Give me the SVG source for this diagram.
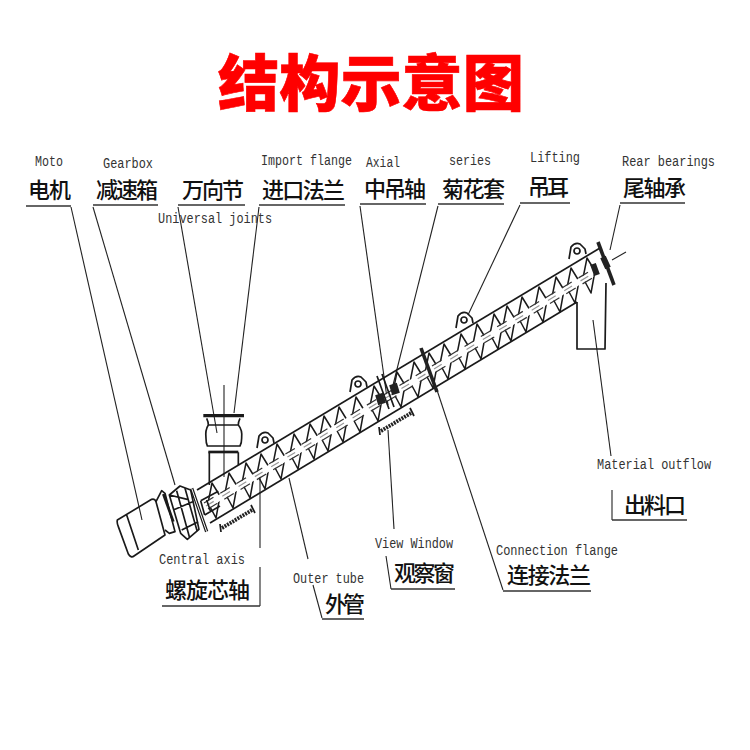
<svg xmlns="http://www.w3.org/2000/svg" xmlns:xlink="http://www.w3.org/1999/xlink" width="750" height="750" viewBox="0 0 750 750">
<style>
.en{font-family:"Liberation Mono",monospace;font-size:14px;fill:#333}
.zh{font-family:"Noto Sans CJK SC","Noto Sans",sans-serif;font-size:22px;fill:#111;font-weight:500}
.title{font-family:"Noto Sans CJK SC",sans-serif;font-size:61px;font-weight:900;fill:#f00;stroke:#f00;stroke-width:.6}
.l{fill:none;stroke:#222;stroke-width:1.1}
.u{fill:none;stroke:#333;stroke-width:1.6}
.d{fill:none;stroke:#1a1a1a;stroke-width:1.7;stroke-linejoin:round}
.b{fill:none;stroke:#1a1a1a;stroke-width:1.5;stroke-linejoin:round}
.z{fill:none;stroke:#1a1a1a;stroke-width:5;stroke-linejoin:round}
.w{fill:none;stroke:#fff;stroke-width:6}
.s{fill:none;stroke:#333;stroke-width:1.2;stroke-dasharray:11 8}
.c{fill:none;stroke:#999;stroke-width:1.2;stroke-dasharray:9 10}
.k{fill:none;stroke:#222;stroke-width:3.8;stroke-dasharray:2 1}
</style>
<defs>
<g id="blade"><path class="b" d="M-1-18 L7-5 L3 17 L-5 2 Z"/></g>
<g id="lug"><path class="d" d="M-8 7 L-6-5 Q-2-10 3-8 L8-3 L9 2"/><circle class="d" cx="0" cy="-1" r="3"/></g>
<g id="win"><path class="k" d="M0 0 L30-18"/><path class="d" d="M-2-4 L-1 4 M29-23 L33-15"/></g>
</defs>
<rect width="750" height="750" fill="#fff"/>
<text class="title" x="218" y="106" textLength="306" lengthAdjust="spacingAndGlyphs">结构示意图</text>

<g id="connectors">
<path class="l" d="M71 207 L142 520"/>
<path class="l" d="M93 207 L175 485"/>
<path class="l" d="M178 207 L217 433"/>
<path class="l" d="M259 207 L234 413"/>
<path class="l" d="M360 206 L388 405"/>
<path class="l" d="M438 206 L390 397"/>
<path class="l" d="M520 205 L468 315"/>
<path class="l" d="M620 205 L610 250"/>
<path class="l" d="M593 320 L611 456"/>
<path class="l" d="M437 390 L503 590"/>
<path class="l" d="M388 430 L394 529"/>
<path class="l" d="M289 478 L308 559"/>
<path class="l" d="M313 585 L322 618"/>
<path class="l" d="M386 556 L391 589"/>
<path class="l" d="M260 473 V548"/>
<path class="l" d="M260 567 V606"/>
<path class="l" d="M612 490 V520"/>
<path class="l" d="M224 385 V477"/>
</g>

<g id="machine">
<g id="tube">
<path class="d" d="M197 490 L600 248"/>
<path class="d" d="M210 523 L577 302"/>
<use xlink:href="#blade" x="213" y="501"/><use xlink:href="#blade" x="230" y="491"/><use xlink:href="#blade" x="247" y="481"/><use xlink:href="#blade" x="262" y="472"/><use xlink:href="#blade" x="278" y="462"/><use xlink:href="#blade" x="295" y="452"/><use xlink:href="#blade" x="311" y="442"/><use xlink:href="#blade" x="325" y="434"/><use xlink:href="#blade" x="340" y="425"/><use xlink:href="#blade" x="357" y="415"/><use xlink:href="#blade" x="375" y="404"/><use xlink:href="#blade" x="398" y="390"/><use xlink:href="#blade" x="415" y="380"/><use xlink:href="#blade" x="430" y="371"/><use xlink:href="#blade" x="445" y="362"/><use xlink:href="#blade" x="462" y="352"/><use xlink:href="#blade" x="478" y="342"/><use xlink:href="#blade" x="495" y="332"/><use xlink:href="#blade" x="508" y="324"/><use xlink:href="#blade" x="523" y="315"/><use xlink:href="#blade" x="540" y="305"/><use xlink:href="#blade" x="557" y="295"/><use xlink:href="#blade" x="572" y="286"/><use xlink:href="#blade" x="588" y="276"/>
<path class="w" d="M206 506 L592 274"/>
<path class="s" d="M204 503 L590 271"/>
<path class="s" d="M208 509 L594 277"/>
<path class="c" d="M206 506 L592 274"/>
<use xlink:href="#lug" x="265" y="441"/><use xlink:href="#lug" x="358" y="385"/><use xlink:href="#lug" x="464" y="321"/><use xlink:href="#lug" x="577" y="252"/>
</g>
<g id="windows"><use xlink:href="#win" x="222" y="528"/><use xlink:href="#win" x="381" y="431"/></g>
<g id="flanges">
<path d="M421 348 L437 392" fill="none" stroke="#222" stroke-width="3.6"/>
<path class="d" d="M377 376 L389 409 M382 374 L394 407" stroke-width="1.2"/>
<path d="M379 394 L382 404 M393 384 L396 394" fill="none" stroke="#222" stroke-width="8"/>
<path d="M598 242 L614 285" fill="none" stroke="#222" stroke-width="3.6"/>
<path d="M593 264 L597 275 M603 257 L608 268" fill="none" stroke="#222" stroke-width="6"/>
<path class="l" d="M612 260 L626 252" stroke="#777"/>
</g>
<g id="outlet"><path class="d" d="M577 302 V349 H605 L606 283"/></g>
<g id="inlet" transform="translate(100 370) scale(.3333)">
<path d="M310 137 H432" fill="none" stroke="#1a1a1a" stroke-width="10"/>
<path class="z" d="M320 145 Q325 155 325 165 Q315 180 318 205 Q318 220 322 228 M420 145 Q415 155 415 165 Q428 180 425 205 Q425 220 420 228 M324 165 H416 M320 228 H422 M328 247 V345 M415 247 V285"/>
<path d="M325 246 H415" fill="none" stroke="#1a1a1a" stroke-width="8"/>
</g>
<g id="drive" transform="translate(110 470) scale(.3333)">
<path fill="#fff" class="z" d="M22 150 L125 88 Q135 85 138 95 L165 195 L72 258 Q63 265 55 252 L25 170 Q20 158 22 150 Z M50 135 L85 240"/>
<path fill="#fff" class="z" d="M138 95 L155 62 L165 70 L195 185 L178 190 L165 180"/>
<path d="M160 72 L190 155" fill="none" stroke="#1a1a1a" stroke-width="8"/>
<path fill="#fff" class="z" d="M178 75 L210 48 L242 60 L267 178 L232 208 L212 190 Z M200 62 L238 200 M225 55 L262 185 M190 120 L248 95 M215 180 L265 155 M178 75 L232 88"/>
<path d="M245 55 L290 185" fill="none" stroke="#1a1a1a" stroke-width="10"/>
<path d="M245 55 L290 185" fill="none" stroke="#fff" stroke-width="3"/>
<path class="z" d="M272 92 L325 64 M284 135 L330 108 M272 92 L284 135 M290 90 L302 125"/>
</g>
</g>

<g id="n-moto"><text class="en" x="35" y="166" textLength="28" lengthAdjust="spacingAndGlyphs">Moto</text><text class="zh" x="28" y="198" textLength="43" lengthAdjust="spacing">电机</text><path class="u" d="M26 206 H71"/></g>
<g id="n-gearbox"><text class="en" x="103" y="168" textLength="50" lengthAdjust="spacingAndGlyphs">Gearbox</text><text class="zh" x="96" y="198" textLength="62" lengthAdjust="spacing">减速箱</text><path class="u" d="M93 205 H158"/></g>
<g id="n-joints"><text class="zh" x="182" y="198" textLength="62" lengthAdjust="spacing">万向节</text><path class="u" d="M178 205 H245"/><text class="en" x="158" y="223" textLength="114" lengthAdjust="spacingAndGlyphs">Universal joints</text></g>
<g id="n-import"><text class="en" x="261" y="165" textLength="91" lengthAdjust="spacingAndGlyphs">Import flange</text><text class="zh" x="262" y="198" textLength="83" lengthAdjust="spacing">进口法兰</text><path class="u" d="M259 205 H345"/></g>
<g id="n-axial"><text class="en" x="366" y="167" textLength="34" lengthAdjust="spacingAndGlyphs">Axial</text><text class="zh" x="364" y="197" textLength="62" lengthAdjust="spacing">中吊轴</text><path class="u" d="M360 204 H426"/></g>
<g id="n-series"><text class="en" x="449" y="165" textLength="42" lengthAdjust="spacingAndGlyphs">series</text><text class="zh" x="442" y="197" textLength="63" lengthAdjust="spacing">菊花套</text><path class="u" d="M438 204 H504"/></g>
<g id="n-lifting"><text class="en" x="530" y="162" textLength="50" lengthAdjust="spacingAndGlyphs">Lifting</text><text class="zh" x="528" y="195" textLength="41" lengthAdjust="spacing">吊耳</text><path class="u" d="M520 203 H570"/></g>
<g id="n-rear"><text class="en" x="622" y="166" textLength="93" lengthAdjust="spacingAndGlyphs">Rear bearings</text><text class="zh" x="623" y="196" textLength="63" lengthAdjust="spacing">尾轴承</text><path class="u" d="M620 203 H685"/></g>
<g id="n-outflow"><text class="en" x="597" y="469" textLength="114" lengthAdjust="spacingAndGlyphs">Material outflow</text><text class="zh" x="624" y="513" textLength="62" lengthAdjust="spacing">出料口</text><path class="u" d="M612 520 H687"/></g>
<g id="n-central"><text class="en" x="159" y="564" textLength="86" lengthAdjust="spacingAndGlyphs">Central axis</text><text class="zh" x="165" y="598" textLength="85" lengthAdjust="spacing">螺旋芯轴</text><path class="u" d="M162 606 H260"/></g>
<g id="n-outer"><text class="en" x="293" y="583" textLength="71" lengthAdjust="spacingAndGlyphs">Outer tube</text><text class="zh" x="325" y="612" textLength="40" lengthAdjust="spacing">外管</text><path class="u" d="M322 619 H364"/></g>
<g id="n-view"><text class="en" x="375" y="548" textLength="78" lengthAdjust="spacingAndGlyphs">View Window</text><text class="zh" x="394" y="581" textLength="61" lengthAdjust="spacing">观察窗</text><path class="u" d="M391 589 H455"/></g>
<g id="n-connection"><text class="en" x="496" y="555" textLength="122" lengthAdjust="spacingAndGlyphs">Connection flange</text><text class="zh" x="507" y="583" textLength="84" lengthAdjust="spacing">连接法兰</text><path class="u" d="M503 591 H591"/></g>
</svg>
